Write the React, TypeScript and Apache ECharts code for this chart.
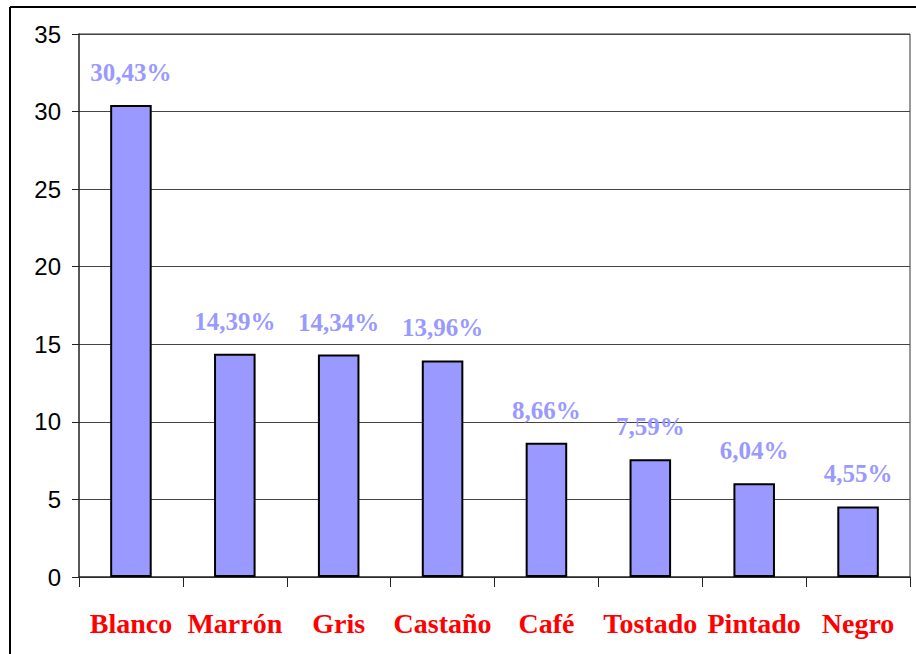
import React, { useEffect, useRef } from "react";
import * as echarts from "echarts";

const categories = ["Blanco", "Marrón", "Gris", "Castaño", "Café", "Tostado", "Pintado", "Negro"];
const values = [30.43, 14.39, 14.34, 13.96, 8.66, 7.59, 6.04, 4.55];
const labels = ["30,43%", "14,39%", "14,34%", "13,96%", "8,66%", "7,59%", "6,04%", "4,55%"];

export default function App() {
  const ref = useRef<HTMLDivElement>(null);
  useEffect(() => {
    const chart = echarts.init(ref.current!, null, { renderer: "svg" });
    chart.setOption({
      animation: false,
      backgroundColor: "#fff",
      grid: { left: 79, right: 6, top: 34, bottom: 77 },
      xAxis: {
        type: "category",
        data: categories,
        axisLine: { lineStyle: { color: "#222", width: 1.5 } },
        axisTick: { show: true, length: 10, lineStyle: { color: "#222" } },
        axisLabel: {
          interval: 0,
          color: "#ff0000",
          fontFamily: "Liberation Serif",
          fontWeight: "bold",
          fontSize: 28,
          margin: 32,
        },
      },
      yAxis: {
        type: "value",
        min: 0,
        max: 35,
        interval: 5,
        axisLine: { show: true, lineStyle: { color: "#222", width: 1.5 } },
        axisTick: { show: true, length: 7, lineStyle: { color: "#222" } },
        axisLabel: {
          color: "#000",
          fontFamily: "Liberation Sans",
          fontSize: 24,
          margin: 18,
        },
        splitLine: { show: true, lineStyle: { color: "#444", width: 1 } },
      },
      series: [
        {
          type: "bar",
          data: values,
          barWidth: "40%",
          itemStyle: { color: "#9999ff", borderColor: "#000", borderWidth: 2 },
          label: {
            show: true,
            position: "top",
            distance: 20,
            formatter: (p: any) => labels[p.dataIndex],
            color: "#9999ff",
            fontFamily: "Liberation Serif",
            fontWeight: "bold",
            fontSize: 25,
          },
        },
      ],
      graphic: [
        { type: "line", shape: { x1: 10, y1: 7, x2: 916, y2: 7 }, style: { stroke: "#000", lineWidth: 2 } },
        { type: "line", shape: { x1: 10, y1: 7, x2: 10, y2: 654 }, style: { stroke: "#000", lineWidth: 2 } },
        { type: "line", shape: { x1: 79, y1: 34, x2: 910, y2: 34 }, style: { stroke: "#999", lineWidth: 2 } },
        { type: "line", shape: { x1: 910, y1: 34, x2: 910, y2: 577 }, style: { stroke: "#999", lineWidth: 2 } },
      ],
    });
    return () => chart.dispose();
  }, []);
  return <div ref={ref} style={{ width: 916, height: 654, position: "fixed", left: 0, top: 0 }} />;
}
